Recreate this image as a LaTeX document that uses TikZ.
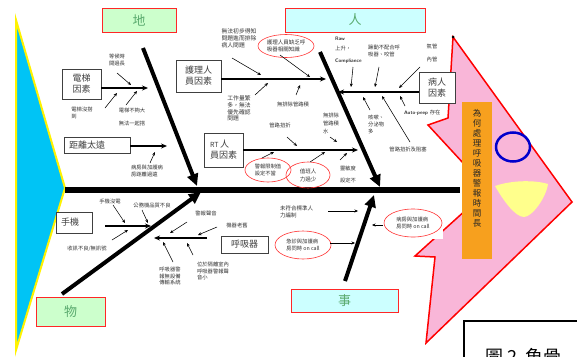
\documentclass[tikz,border=0pt]{standalone}
\usepackage{fontspec}
\setmainfont{Noto Sans CJK TC}
\usetikzlibrary{arrows.meta}
\definecolor{catgreen}{RGB}{90,170,110}
\definecolor{lgreen}{RGB}{204,255,204}
\definecolor{lcyan}{RGB}{204,255,255}
\definecolor{pinkc}{RGB}{249,182,216}
\definecolor{orangec}{RGB}{247,160,30}
\definecolor{cyanc}{RGB}{0,196,245}
\definecolor{yellowc}{RGB}{255,255,140}
\begin{document}
\begin{tikzpicture}[x=1pt,y=-1pt,
  catbox/.style={draw=red!85, line width=0.8pt, font=\fontsize{13}{13}\selectfont, text=catgreen, inner sep=0pt},
  subbox/.style={draw=black!75, line width=0.7pt, fill=white, font=\fontsize{9}{11}\selectfont, text=black!75, align=left, inner sep=0pt},
  lab/.style={font=\fontsize{5.3}{6.6}\selectfont, text=black!80, inner sep=0pt, align=left},
  bone/.style={line width=4pt, -{Triangle[length=12pt,width=11pt]}},
  subbone/.style={line width=1.5pt, -{Stealth[length=6pt,width=5pt]}},
  tarr/.style={line width=0.55pt, -{Stealth[length=3.5pt,width=3pt]}},
  ring/.style={draw=red!80, line width=0.6pt}
]
\useasboundingbox (0,0) rectangle (577,356);
\clip (0,0) rectangle (577,356);
\fill[white] (0,0) rectangle (577,356);

% left head triangle
\draw[yellow, line width=2pt, fill=cyanc] (16,20) -- (65,188) -- (16,350) -- cycle;
\coordinate (tail) at (65,190);
\coordinate (head) at (460,190);
% spine
\draw[line width=5.5pt] (tail) -- (head);

% pink arrow
\draw[red, line width=1.5pt, fill=pinkc] (453,37) -- (572,202) -- (426,343) -- (435,257) -- (415,256) -- (488,190) -- (428,125) -- (448,118) -- cycle;
\fill (453,37) circle (1.5);
\node[fill=orangec, minimum width=30pt, minimum height=157pt, inner sep=0pt] (q) at (477,180.5) {};
\node[inner sep=0pt, font=\fontsize{8.5}{10}\selectfont, text=black!85, align=center] (qt) at (477,168) {為\\何\\處\\理\\呼\\吸\\器\\警\\報\\時\\間\\長};
\draw[blue!80!black, line width=2.5pt] (513,147) ellipse [x radius=17, y radius=14.5];
\fill[yellowc] (495,186) .. controls (512,180) and (535,180) .. (548,184) .. controls (546,198) and (532,217) .. (524,217) .. controls (515,217) and (503,200) .. cycle;

% category boxes
\node[catbox, fill=lgreen, minimum width=74pt, minimum height=24pt] (di) at (139,20) {地};
\node[catbox, fill=lcyan, minimum width=140pt, minimum height=24pt] (ren) at (355,20) {人};
\node[catbox, fill=lgreen, minimum width=69pt, minimum height=29pt] (wu) at (70.5,311.5) {物};
\node[catbox, fill=lcyan, minimum width=107pt, minimum height=23pt] (shi) at (344.5,300.5) {事};

% main bones
\coordinate (b1s) at (143,48);  \coordinate (b1e) at (197,186);
\coordinate (b2s) at (320,52);  \coordinate (b2e) at (380,187);
\coordinate (b3s) at (62,294);  \coordinate (b3e) at (201,192);
\coordinate (b4s) at (345,281); \coordinate (b4e) at (374,195);
\draw[bone] (b1s) -- (b1e);
\draw[bone] (b2s) -- (b2e);
\draw[bone] (b3s) -- (b3e);
\draw[bone] (b4s) -- (b4e);

% sub boxes
\node[subbox, minimum width=39pt, minimum height=30pt] (elev) at (81.5,84) {電梯\\因素};
\node[subbox, minimum width=66pt, minimum height=16pt] (dist) at (97,145) {距離太遠\hspace*{20pt}};
\node[subbox, minimum width=45pt, minimum height=32pt] (nurse) at (198.5,76) {護理人\\員因素};
\node[subbox, minimum width=39pt, minimum height=34pt] (rt) at (223.5,150) {\fontsize{7}{7}\selectfont RT \fontsize{9}{9}\selectfont 人\\員因素};
\node[subbox, minimum width=36pt, minimum height=31pt] (pat) at (437,87.5) {病人\\因素};
\node[subbox, minimum width=36pt, minimum height=21pt] (phone) at (74,222.5) {手機\hspace*{8pt}};
\node[subbox, minimum width=47pt, minimum height=17pt] (vent) at (244.5,244.5) {呼吸器};

% sub bones
\draw[subbone] (elev.east |- 0,88) -- (148,88);
\draw[subbone] (dist.east |- 0,146) -- (167,146);
\draw[subbone] (nurse.east |- 0,79) -- (326,79);
\draw[subbone] (rt.east |- 0,150) -- (358,150);
\draw[subbone] (pat.west |- 0,92) -- (338,92);
\draw[subbone] (105,226) -- (151,226);
\draw[subbone] (207,238) -- (154,238);

% labels: 地
\node[lab] (l1) at (117,60) {等候時\\間過長};
\node[lab] (l2) at (82,113) {電梯沒搭\\到};
\node[lab] (l3) at (132,110) {電梯不夠大};
\node[lab] (l3b) at (132,123) {無法一起搭};
\node[lab] (l4) at (147,171) {病房與加護病\\房距離過遠};
\draw[tarr] (117,73) -- (131,85);
\draw[tarr] (105,108) -- (117,93);
\draw[tarr] (126,105) -- (137,91);
\draw[tarr] (150,163) -- (155,152);

% labels: 護理人員
\node[lab, font=\fontsize{5.8}{6.8}\selectfont] (l5) at (239,38) {無法初步得知\\問題進而排除\\病人問題};
\draw[ring] (286,46) ellipse [x radius=28, y radius=11.5];
\node[lab, font=\fontsize{5.5}{7.5}\selectfont] (l6) at (286,46) {護理人員缺乏呼\\吸器相關知識};
\node[lab, font=\fontsize{5.8}{6.6}\selectfont] (l7) at (239,108.5) {工作量繁\\多，無法\\優先確認\\問題};
\node[lab] (l8) at (293,104) {無排除管路積};
\draw[tarr] (232,58) -- (261,75);
\draw[tarr] (280,55) -- (310,77);
\draw[tarr] (255,95) -- (268,83);
\draw[tarr] (296,95) -- (300,85);

% labels: RT
\node[lab] (l9) at (280,125) {管路扭折};
\node[lab, font=\fontsize{5.3}{8}\selectfont] (l10) at (331,123) {無排除\\管路積\\水};
\draw[ring] (268,170) ellipse [x radius=23, y radius=12];
\node[lab, font=\fontsize{5.3}{7.5}\selectfont] (l11) at (268,170) {警報限制值\\設定不當};
\draw[ring] (308,175) ellipse [x radius=22, y radius=13];
\node[lab, font=\fontsize{5.5}{8}\selectfont] (l12) at (308,175) {值班人\\力過少};
\node[lab] (l13) at (348,168) {靈敏度};
\node[lab] (l13b) at (348,180) {設定不};
\draw[tarr] (287,137) -- (297,146);
\draw[tarr] (330,137) -- (337,142);
\draw[tarr] (262,158) -- (274,152);
\draw[tarr] (310,162) -- (325,152);
\draw[tarr] (340,160) -- (347,153);

% labels: 病人
\node[lab, anchor=west, font=\sffamily\bfseries\fontsize{5}{6}\selectfont] (l14) at (335,39) {Raw};
\node[lab, anchor=west] (l14b) at (335,49) {上升，};
\node[lab, anchor=west, font=\sffamily\bfseries\fontsize{5}{6}\selectfont] (l14c) at (335,61) {Compliance};
\node[lab, anchor=west] (l15) at (368,51) {躁動不配合呼\\吸器、咬管};
\node[lab] (l16) at (432,46) {氣管};
\node[lab] (l16b) at (432,59) {內管};
\node[lab, anchor=west] (l17) at (404,113) {\sffamily\bfseries\fontsize{5}{6}\selectfont Auto-peep \rmfamily\mdseries\fontsize{5.3}{6}\selectfont 存在};
\node[lab, anchor=west, font=\fontsize{5.3}{7}\selectfont] (l18) at (368,124) {咳嗽、\\分泌物\\多};
\node[lab] (l19) at (408,149) {管路扭折及阻塞};
\draw[tarr] (353,67) -- (351,87);
\draw[tarr] (379,67) -- (375,87);
\draw[tarr] (420,67) -- (399,88);
\draw[tarr] (405,106) -- (400,96);
\draw[tarr] (370,110) -- (363,97);
\draw[tarr] (410,142) -- (382,96);

% labels: 手機
\node[lab] (l20) at (110,201) {手機沒電};
\node[lab] (l21) at (152,205) {公務機品質不良};
\node[lab] (l22) at (87,249) {收訊不良/無訊號};
\draw[tarr] (113,205) -- (125,223);
\draw[tarr] (142,210) -- (148,223);
\draw[tarr] (112,240) -- (128,230);

% labels: 呼吸器
\node[lab] (l23) at (206,213) {警報聲音};
\node[lab] (l24) at (237,225) {機器老舊};
\node[lab, align=center] (l25) at (170,276) {呼吸器警\\報無設備\\傳輸系統};
\node[lab] (l26) at (213,271) {位於隔離室內\\呼吸器警報聲\\音小};
\draw[tarr] (187,222) -- (170,233);
\draw[tarr] (217,227) -- (198,235);
\draw[tarr] (173,262) -- (163,242);
\draw[tarr] (193,255) -- (187,243);

% labels: 事
\node[lab, anchor=west, font=\fontsize{5.5}{7.5}\selectfont] (l27) at (280,212) {未符合標準人\\力編制};
\draw[ring] (303,245) ellipse [x radius=28, y radius=14];
\node[lab, font=\fontsize{5.3}{7}\selectfont] (l28) at (303,245) {急診與加護病\\房同時 on call};
\fill[white] (383,207) rectangle (443,239);
\draw[ring] (413,223) ellipse [x radius=29, y radius=14];
\node[lab, font=\fontsize{5.3}{7}\selectfont] (l29) at (413,223) {病房與加護病\\房同時 on call};
\draw[tarr] (328,211) -- (358,211);
\draw[tarr] (330,243) -- (355,243);
\draw[tarr] (383,225) -- (372,225);

% caption box (cut off as in the reference)
\node[draw=black, line width=1.5pt, fill=white, minimum width=130pt, minimum height=60pt, anchor=north west, inner sep=0pt] (cap) at (463,320) {};
\node[anchor=west, font=\fontsize{18}{18}\selectfont, inner sep=0pt] (capt) at (485,357) {圖 2\ \ 魚骨};
\end{tikzpicture}
\end{document}
